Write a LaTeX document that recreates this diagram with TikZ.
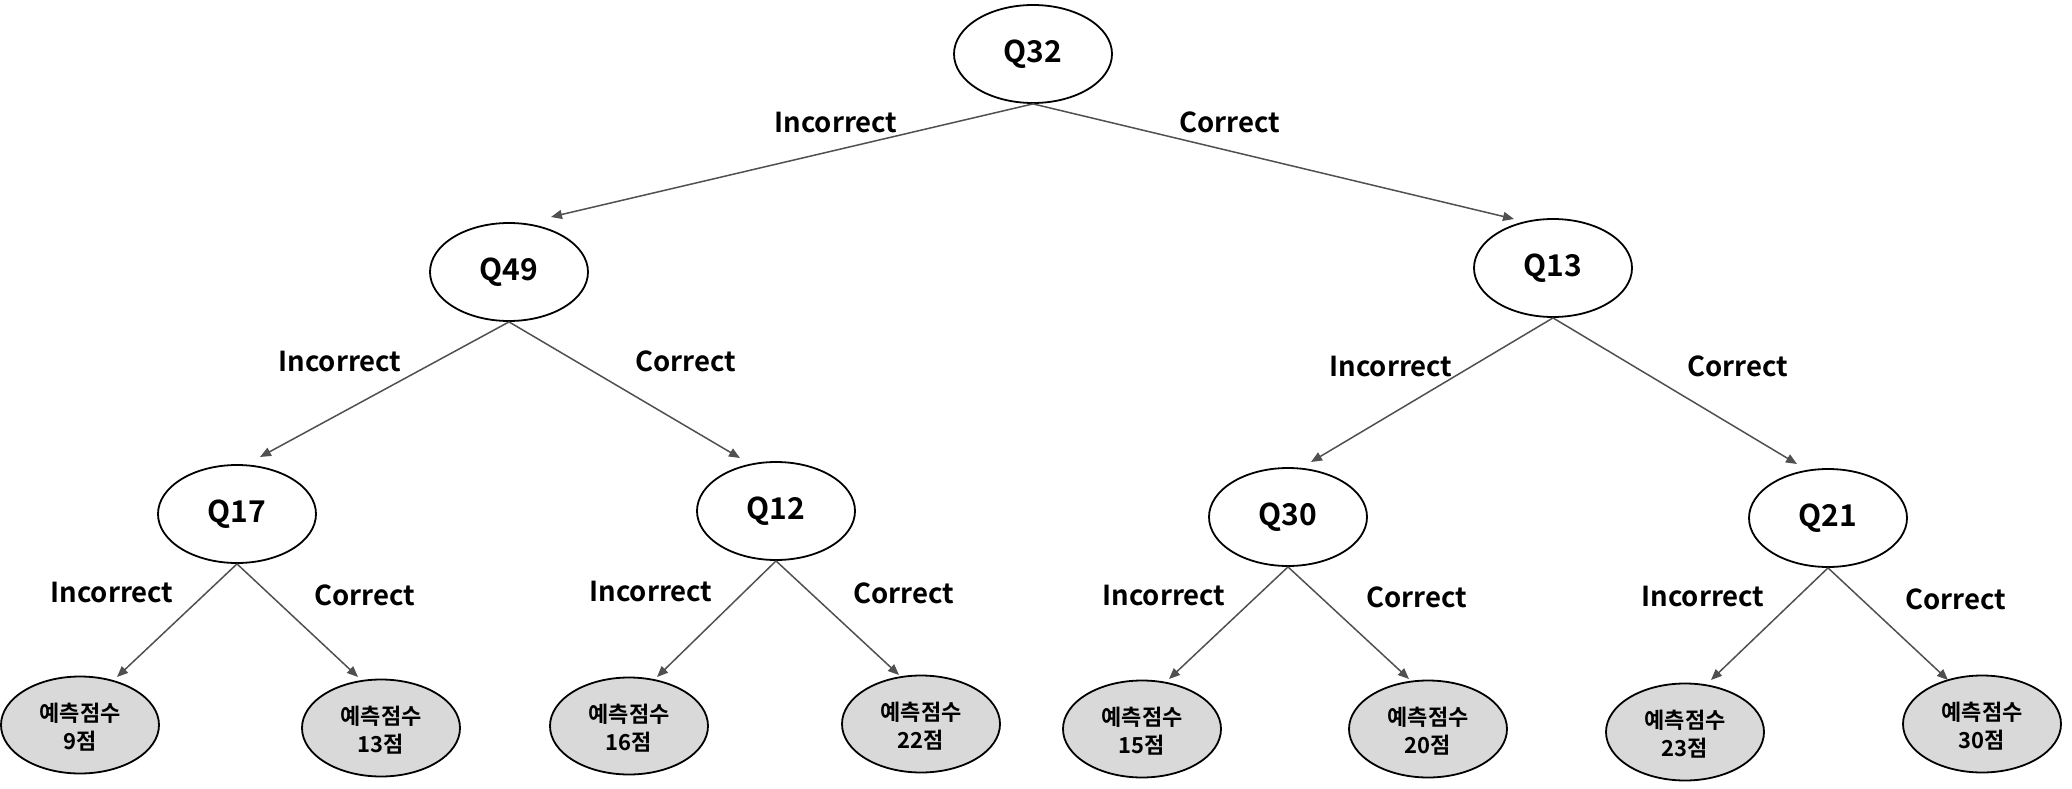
\documentclass[tikz,border=0pt]{standalone}
\usepackage{fontspec}
\setmainfont{Noto Sans CJK KR}[BoldFont={Noto Sans CJK KR Bold}]
\usetikzlibrary{shapes.geometric,arrows.meta,calc}
\newcommand{\leaftext}[1]{\raisebox{-5pt}[\height][\depth]{\begin{tabular}{@{}c@{}}예측점수\\[2pt]#1점\end{tabular}}}
\tikzset{
  qnode/.style={ellipse,draw=black,line width=1.8pt,fill=white,minimum width=158pt,minimum height=98pt,inner sep=0pt,font=\fontsize{30}{34}\selectfont\bfseries},
  leaf/.style={ellipse,draw=black,line width=1.8pt,fill=leafgray,minimum width=158pt,minimum height=97pt,inner sep=0pt,align=center,font=\fontsize{22}{25}\selectfont\bfseries},
  lbl/.style={font=\fontsize{27.5}{30}\selectfont\bfseries,inner sep=0pt},
  conn/.style={draw=linegray,line width=1.5pt,-{Triangle[length=11pt,width=9pt]}},
}
\definecolor{leafgray}{HTML}{D9D9D9}
\definecolor{linegray}{HTML}{505050}
\begin{document}
\begin{tikzpicture}[x=1pt,y=-1pt]
\useasboundingbox (0,0) rectangle (2072,789);
% internal nodes
\node[qnode] (q32) at (1033,54) {Q32};
\node[qnode] (q49) at (509,272) {Q49};
\node[qnode] (q13) at (1553,268) {Q13};
\node[qnode] (q17) at (237,514) {Q17};
\node[qnode] (q12) at (776,511) {Q12};
\node[qnode] (q30) at (1288,517) {Q30};
\node[qnode] (q21) at (1828,518) {Q21};
% leaves
\node[leaf] (l9) at (80,725) {\leaftext{9}};
\node[leaf] (l13) at (381,728) {\leaftext{13}};
\node[leaf] (l16) at (629,726) {\leaftext{16}};
\node[leaf] (l22) at (921,724) {\leaftext{22}};
\node[leaf] (l15) at (1142,729) {\leaftext{15}};
\node[leaf] (l20) at (1428,729) {\leaftext{20}};
\node[leaf] (l23) at (1685,732) {\leaftext{23}};
\node[leaf] (l30) at (1982,724) {\leaftext{30}};
% connectors
\draw[conn] (q32.south) -- ($(q49.center)+(42,-55)$);
\draw[conn] (q32.south) -- ($(q13.center)+(-39,-49)$);
\draw[conn] (q49.south) -- ($(q17.center)+(23,-57)$);
\draw[conn] (q49.south) -- ($(q12.center)+(-36,-53)$);
\draw[conn] (q13.south) -- ($(q30.center)+(23,-55)$);
\draw[conn] (q13.south) -- ($(q21.center)+(-31,-54)$);
\draw[conn] (q17.south) -- ($(l9.center)+(37,-48)$);
\draw[conn] (q17.south) -- ($(l13.center)+(-23,-51)$);
\draw[conn] (q12.south) -- ($(l16.center)+(28,-49)$);
\draw[conn] (q12.south) -- ($(l22.center)+(-22,-49)$);
\draw[conn] (q30.south) -- ($(l15.center)+(27,-50)$);
\draw[conn] (q30.south) -- ($(l20.center)+(-19,-50)$);
\draw[conn] (q21.south) -- ($(l23.center)+(26,-52)$);
\draw[conn] (q21.south) -- ($(l30.center)+(-34,-44)$);
% labels
\node[lbl] (t1) at (836,123) {Incorrect};
\node[lbl] (t2) at (1230,122) {Correct};
\node[lbl] (t3) at (340,362) {Incorrect};
\node[lbl] (t4) at (686,361) {Correct};
\node[lbl] (t5) at (1391,367) {Incorrect};
\node[lbl] (t6) at (1738,366) {Correct};
\node[lbl] (t7) at (112,592) {Incorrect};
\node[lbl] (t8) at (365,595) {Correct};
\node[lbl] (t9) at (651,591) {Incorrect};
\node[lbl] (t10) at (904,593) {Correct};
\node[lbl] (t11) at (1164,595) {Incorrect};
\node[lbl] (t12) at (1417,597) {Correct};
\node[lbl] (t13) at (1703,596) {Incorrect};
\node[lbl] (t14) at (1956,599) {Correct};
\end{tikzpicture}
\end{document}
